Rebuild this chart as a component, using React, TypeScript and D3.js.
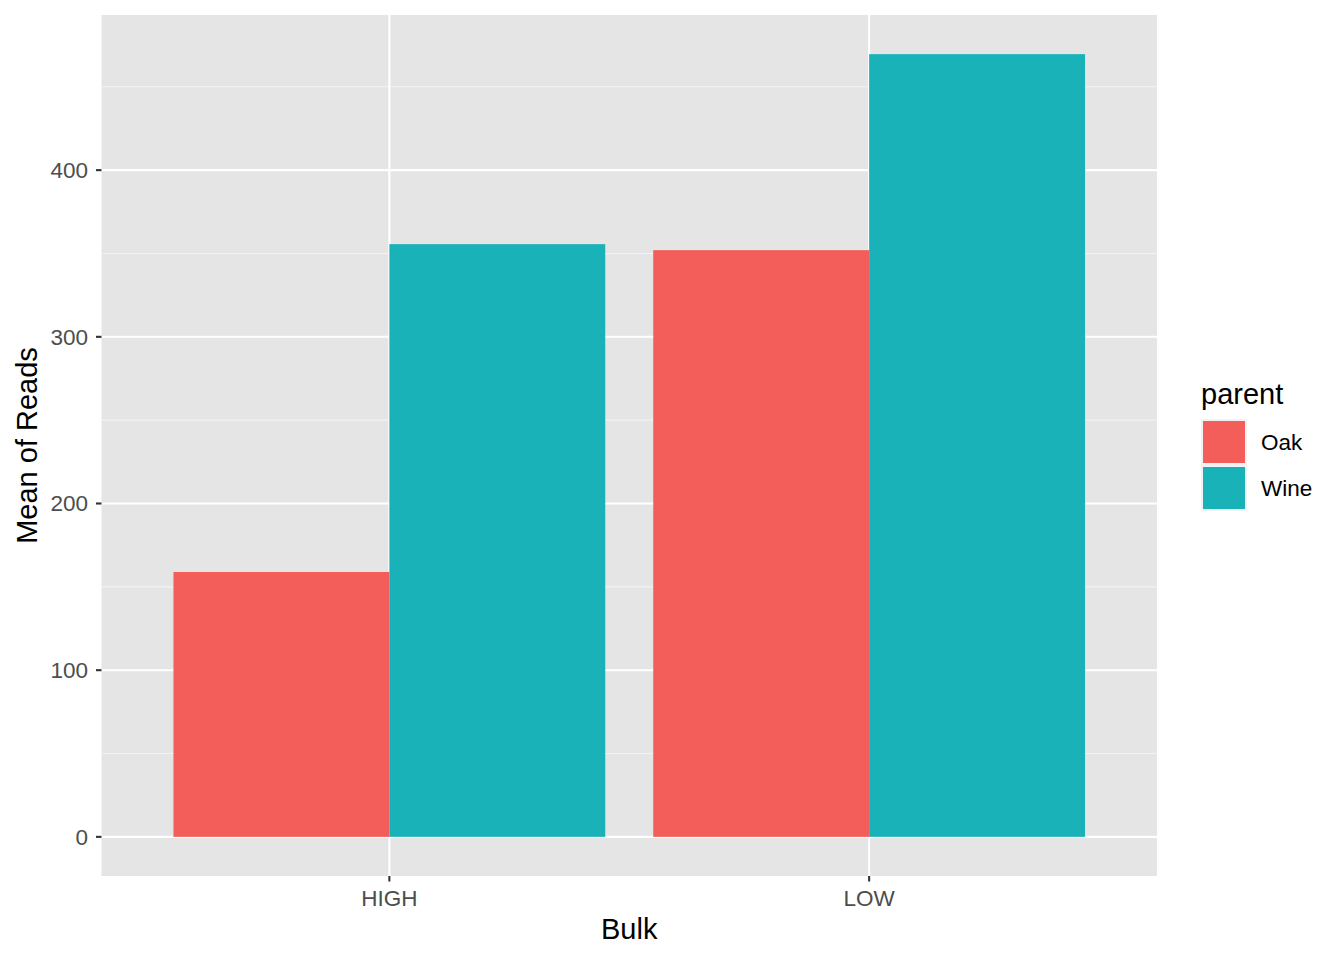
import React from "react";
import * as d3 from "d3";

const categories = ["HIGH", "LOW"];
const seriesNames = ["Oak", "Wine"];
const oakValues = [158.9, 352.0];
const wineValues = [355.6, 469.6];
const yTicks = [0, 100, 200, 300, 400];
const yMinor = [50, 150, 250, 350, 450];
const barColors = ["#F35E5A", "#19B2B8"];

const W = 1344;
const H = 960;
const panel = { left: 101.5, right: 1157, top: 15, bottom: 876 };
const font = "'Liberation Sans', Arial, Helvetica, sans-serif";
const tickFont = 22.5;
const titleFont = 29;

export default function App() {
  const values = [oakValues, wineValues];
  const maxV = d3.max([...oakValues, ...wineValues]) as number;
  const pad = maxV * 0.05;
  const y = d3.scaleLinear().domain([-pad, maxV + pad]).range([panel.bottom, panel.top]);
  // ggplot discrete: positions 1..n, expand 0.6 each side
  const xc = d3.scaleLinear().domain([0.4, categories.length + 0.6]).range([panel.left, panel.right]);
  const barW = 0.9;
  const sub = d3.scaleBand().domain(seriesNames).range([-barW / 2, barW / 2]);

  return (
    <svg width={W} height={H} style={{ position: "absolute", left: 0, top: 0, background: "#fff" }} fontFamily={font}>
      <rect x={panel.left} y={panel.top} width={panel.right - panel.left} height={panel.bottom - panel.top} fill="#E5E5E5" />
      {yMinor.map((v) => (
        <line key={"mn" + v} x1={panel.left} x2={panel.right} y1={y(v)} y2={y(v)} stroke="#F2F2F2" strokeWidth={1.1} />
      ))}
      {yTicks.map((v) => (
        <line key={"mj" + v} x1={panel.left} x2={panel.right} y1={y(v)} y2={y(v)} stroke="#FFFFFF" strokeWidth={2.1} />
      ))}
      {categories.map((c, i) => (
        <line key={"vx" + c} x1={xc(i + 1)} x2={xc(i + 1)} y1={panel.top} y2={panel.bottom} stroke="#FFFFFF" strokeWidth={2.1} />
      ))}
      {categories.map((c, i) =>
        seriesNames.map((s, j) => {
          const x0 = xc(i + 1 + (sub(s) as number));
          const x1 = xc(i + 1 + (sub(s) as number) + sub.bandwidth());
          const v = values[j][i];
          return <rect key={c + s} x={x0} y={y(v)} width={x1 - x0} height={y(0) - y(v)} fill={barColors[j]} />;
        })
      )}
      {yTicks.map((v) => (
        <g key={"yt" + v}>
          <line x1={panel.left - 5.5} x2={panel.left} y1={y(v)} y2={y(v)} stroke="#333333" strokeWidth={2.1} />
          <text x={panel.left - 13.5} y={y(v)} dy="0.35em" textAnchor="end" fontSize={tickFont} fill="#4D4D4D">
            {v}
          </text>
        </g>
      ))}
      {categories.map((c, i) => (
        <g key={"xt" + c}>
          <line x1={xc(i + 1)} x2={xc(i + 1)} y1={panel.bottom} y2={panel.bottom + 5.5} stroke="#333333" strokeWidth={2.1} />
          <text x={xc(i + 1)} y={906} textAnchor="middle" fontSize={tickFont} fill="#4D4D4D">
            {c}
          </text>
        </g>
      ))}
      <text x={(panel.left + panel.right) / 2} y={939} textAnchor="middle" fontSize={titleFont} fill="#000">
        Bulk
      </text>
      <text transform={`translate(36.5, ${(panel.top + panel.bottom) / 2}) rotate(-90)`} textAnchor="middle" fontSize={titleFont} fill="#000">
        Mean of Reads
      </text>
      <text x={1201} y={404} fontSize={titleFont} fill="#000">
        parent
      </text>
      {seriesNames.map((s, j) => (
        <g key={"lg" + s}>
          <rect x={1201} y={419 + j * 46} width={46} height={46} fill="#F2F2F2" />
          <rect x={1203} y={421 + j * 46} width={42} height={42} fill={barColors[j]} />
          <text x={1261} y={442 + j * 46} dy="0.35em" fontSize={tickFont} fill="#000">
            {s}
          </text>
        </g>
      ))}
    </svg>
  );
}
